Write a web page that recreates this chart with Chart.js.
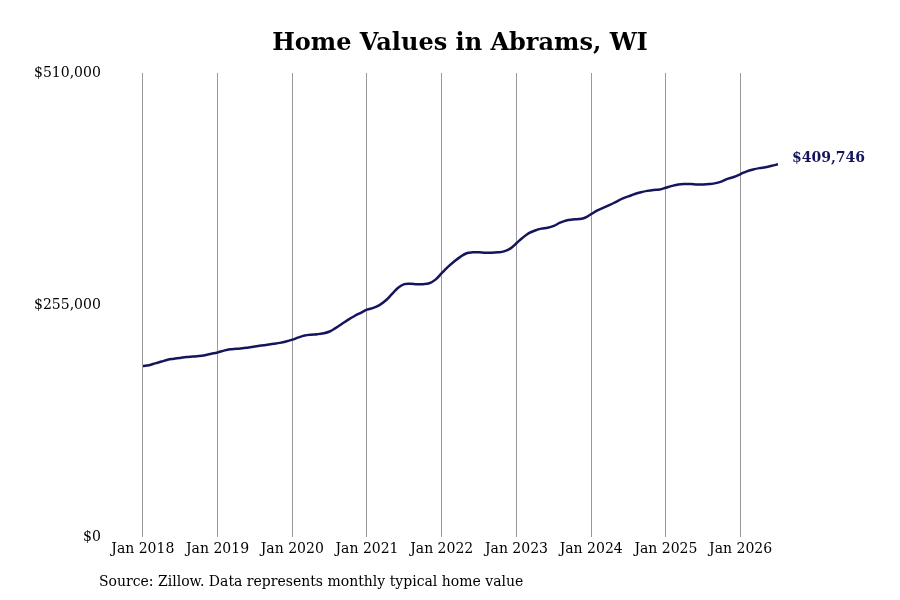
<!DOCTYPE html><html><head><script src="https://cdn.jsdelivr.net/npm/chart.js"></script>
<style>body{margin:0;background:#fff}#w{width:900px;height:600px;position:relative}</style></head><body><div id="w"><canvas id="c"></canvas></div>
<script>
const startYear = 2018;
const values = [
188,189,191,193,195,196,197,198,198.5,199,200,201.5,
203,205,206.5,207,207.5,208.5,209.5,210.5,211.5,212.5,213.5,215,
217,219.5,221.5,222.5,223,224,226,230,234.5,239,243,246.5,
250,252,255,260,267,274,278,278.5,278,278,279,283,
290,297,303,308,312,313,313,312.5,312.5,313,314,317,
323,329,334,337,339,340,342,345.5,348,349,349.5,351,
355,359,362,365,368.5,372,374.5,377,379,380.5,381.5,382,
384,386,387.5,388,388,387.5,387.5,388,389,391,394,396,
399,402,404,405.5,406.5,408,409.746].map(v=>v*1000);
const yTicks = [0,255000,510000];
const pts = values.map((v,i)=>({x:i,y:v}));
const fmt = v=>'$'+Math.round(v).toLocaleString('en-US');
const F = "'DejaVu Serif', serif";
const endLabel = {id:'endLabel',afterDatasetsDraw(ch){const m=ch.getDatasetMeta(0).data;const p=m[m.length-1];const c=ch.ctx;c.save();c.font="bold 14px "+F;c.fillStyle='#15155e';c.textBaseline='middle';c.fillText(fmt(values[values.length-1]),p.x+14,p.y-6);c.restore();}};
const source = {id:'src',afterDraw(ch){const c=ch.ctx;c.save();c.font="14px "+F;c.fillStyle='#000';c.textBaseline='middle';c.fillText('Source: Zillow. Data represents monthly typical home value',99,582);
c.font="bold 24px "+F;c.textAlign='center';c.fillText('Home Values in Abrams, WI',460,44);c.restore();}};
new Chart(document.getElementById('c'),{type:'line',
data:{datasets:[{data:pts,borderColor:'#15155e',borderWidth:2.5,pointRadius:0,tension:0.4,fill:false}]},
plugins:[endLabel,source],
options:{responsive:true,maintainAspectRatio:false,animation:false,
layout:{padding:{left:0,right:122,top:73,bottom:38}},
plugins:{legend:{display:false},tooltip:{enabled:false},title:{display:false}},
scales:{x:{type:'linear',min:0,max:values.length-1,grid:{color:'#999',drawTicks:false},border:{display:false},
afterBuildTicks(a){a.ticks=[];for(let i=0;i<values.length;i+=12)a.ticks.push({value:i});},
ticks:{callback:v=>'Jan '+(startYear+v/12),font:{family:F,size:14},color:'#000',padding:4,maxRotation:0}},
y:{min:0,max:510000,grid:{display:false},border:{display:false},
afterBuildTicks(a){a.ticks=yTicks.map(v=>({value:v}));},
ticks:{callback:v=>fmt(v),font:{family:F,size:14},color:'#000',padding:34}}}}});
</script></body></html>
